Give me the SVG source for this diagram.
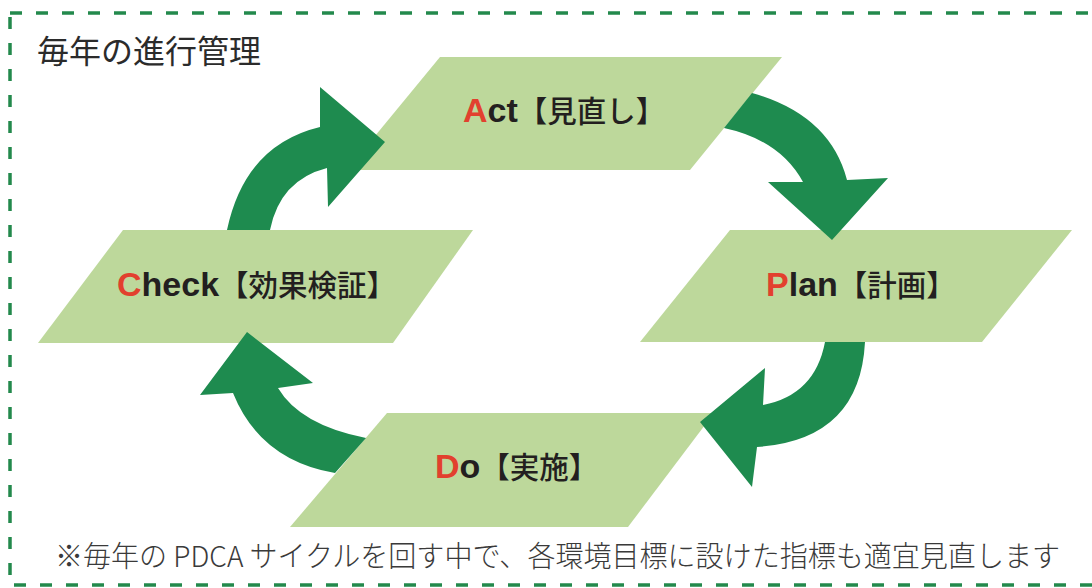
<svg xmlns="http://www.w3.org/2000/svg" width="1092" height="588" viewBox="0 0 1092 588">
<style>
.frame{fill:none;stroke:#23894c;stroke-width:3.5;stroke-dasharray:12 14}
.box{fill:#bdd89b}
.arr{fill:#1e8b4f}
.lbl{font-family:"Liberation Sans",Arial,sans-serif;font-weight:bold;font-size:34px;fill:#231f20}
.red{fill:#e2402e}
.jp{font-family:"Noto Sans CJK JP",sans-serif;font-weight:500;font-size:29.5px}
.title{font-family:"Noto Sans CJK JP",sans-serif;font-size:32px;fill:#2b2b2b}
.note{font-family:"Noto Sans CJK JP",sans-serif;font-weight:300;font-size:29px;fill:#3a3a3a}
</style>
<rect class="frame" x="10" y="13" width="1100" height="572"/>
<text class="title" x="37" y="63">毎年の進行管理</text>
<g id="act">
<polygon class="box" points="440,57 782,57 690,170 347,170"/>
<text class="lbl" x="463" y="122"><tspan class="red">A</tspan>ct<tspan class="jp">【見直し】</tspan></text>
</g>
<g id="plan">
<polygon class="box" points="730,230 1072,230 982,342 640,342"/>
<text class="lbl" x="766" y="296"><tspan class="red">P</tspan>lan<tspan class="jp">【計画】</tspan></text>
</g>
<g id="do">
<polygon class="box" points="387,413 714,413 628,527 290,527"/>
<text class="lbl" x="435" y="478"><tspan class="red">D</tspan>o<tspan class="jp">【実施】</tspan></text>
</g>
<g id="check">
<polygon class="box" points="123,230 473,230 393,343 38,343"/>
<text class="lbl" x="117" y="296"><tspan class="red">C</tspan>heck<tspan class="jp">【効果検証】</tspan></text>
</g>
<g id="connectors">
<path class="arr" d="M724,128 L752,93 Q830,115 847,180 L888,178 L832,240 L768,182 L803,182 Q780,140 724,128 Z"/>
<path class="arr" d="M825,342 L865,342 Q860,440 757,447 L752,487 L700,422 L765,368 L763,405 Q815,395 825,342 Z"/>
<path class="arr" d="M366,438 Q300,425 278,388 L313,383 L247,332 L200,395 L233,393 Q260,460 335,473 Z"/>
<path class="arr" d="M227,230 Q245,145 320,127 L320,87 L385,142 L328,207 L327,168 Q280,180 270,230 Z"/>
</g>
<text class="note" x="55" y="567" textLength="1005" lengthAdjust="spacingAndGlyphs">※毎年の PDCA サイクルを回す中で、各環境目標に設けた指標も適宜見直します</text>
</svg>
